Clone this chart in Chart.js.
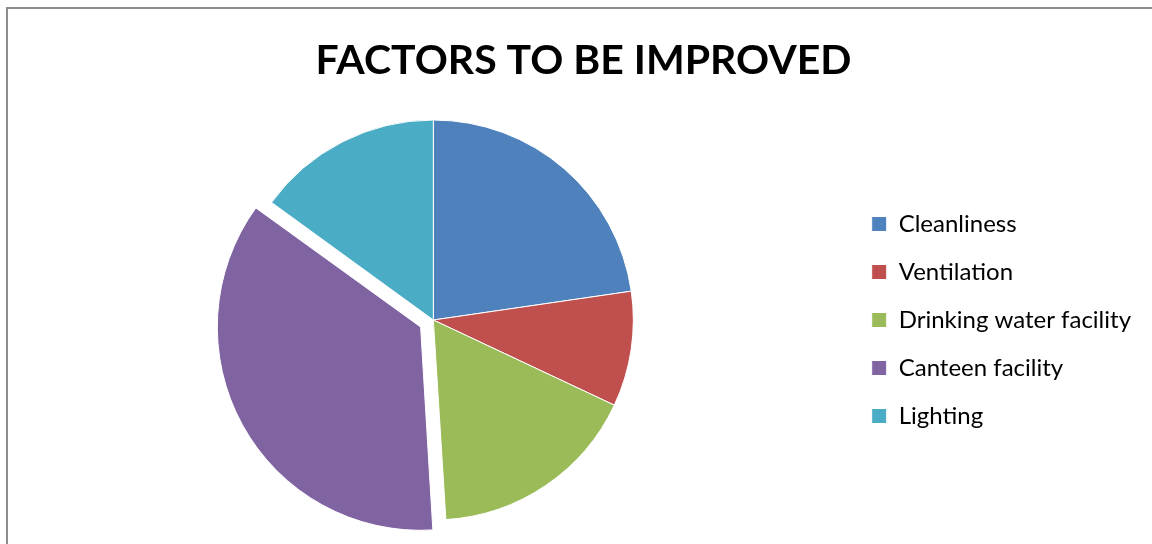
<!DOCTYPE html>
<html>
<head>
<meta charset="utf-8">
<script src="https://cdn.jsdelivr.net/npm/chart.js@4"></script>
<style>
  html, body { margin: 0; padding: 0; background: #fff; overflow: hidden; }
  #wrap { position: relative; width: 1152px; height: 544px; }
  #frame { position: absolute; left: 6px; top: 7px; width: 1200px; height: 600px;
           border-top: 2px solid #8c8c8c; border-left: 2px solid #8c8c8c; box-sizing: border-box; }
  canvas { position: absolute; left: 0; top: 0; }
</style>
</head>
<body>
<div id="wrap">
  <div id="frame"></div>
  <canvas id="c" width="1152" height="544"></canvas>
</div>
<script>
const chartTitle = 'FACTORS TO BE IMPROVED';
const categories = ['Cleanliness', 'Ventilation', 'Drinking water facility', 'Canteen facility', 'Lighting'];
const shares = [22.7, 9.3, 17.0, 36.0, 15.0];
const explodedCategory = 'Canteen facility';

const sliceColors = ['#4F81BD', '#C0504D', '#9BBB59', '#8064A2', '#4BACC6'];

const titlePlugin = {
  id: 'excelTitle',
  afterDraw(chart) {
    const ctx = chart.ctx;
    ctx.save();
    ctx.font = 'bold 41px Lato';
    ctx.fillStyle = '#000';
    ctx.textAlign = 'center';
    ctx.textBaseline = 'alphabetic';
    ctx.fillText(chartTitle, 583.5, 74);
    ctx.restore();
  }
};

new Chart(document.getElementById('c'), {
  type: 'pie',
  data: {
    labels: categories,
    datasets: [{
      data: shares,
      backgroundColor: sliceColors,
      borderColor: '#ffffff',
      borderWidth: 1,
      offset: categories.map(c => c === explodedCategory ? 58 : 0)
    }]
  },
  options: {
    responsive: false,
    animation: false,
    radius: 200,
    layout: { padding: { left: 19, right: 11, top: 96, bottom: 0 } },
    plugins: {
      title: { display: false },
      tooltip: { enabled: false },
      legend: {
        display: true,
        position: 'right',
        align: 'center',
        labels: {
          boxWidth: 15,
          boxHeight: 15,
          padding: 24,
          color: '#000',
          font: { family: 'Lato', size: 24 }
        }
      }
    }
  },
  plugins: [titlePlugin]
});
</script>
</body>
</html>
